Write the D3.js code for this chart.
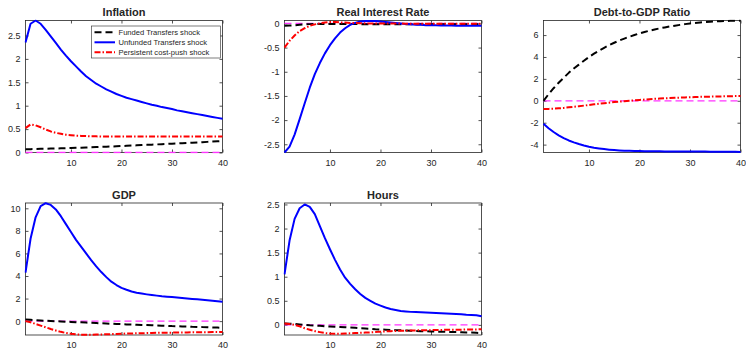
<!DOCTYPE html>
<html>
<head>
<meta charset="utf-8">
<script src="https://cdn.jsdelivr.net/npm/d3@7"></script>
<style>
  body { margin: 0; background: #fff; }
  svg { display: block; }
  text { font-family: "Liberation Sans", Arial, Helvetica, sans-serif; fill: #262626; }
</style>
</head>
<body>
<svg id="chart" width="746" height="349"></svg>
<script>
// horizon (quarters)
const periods = d3.range(1, 41);

const seriesNames = ["Funded Transfers shock", "Unfunded Transfers shock", "Persistent cost-push shock"];

// Inflation
const inflationFunded = [0.07, 0.072, 0.075, 0.078, 0.08, 0.083, 0.086, 0.089, 0.092, 0.095, 0.099, 0.103, 0.107, 0.111, 0.115, 0.12, 0.124, 0.128, 0.133, 0.138, 0.143, 0.148, 0.153, 0.158, 0.163, 0.168, 0.173, 0.178, 0.183, 0.188, 0.193, 0.198, 0.204, 0.209, 0.215, 0.221, 0.227, 0.233, 0.239, 0.245];
const inflationUnfunded = [2.35, 2.75, 2.82, 2.75, 2.62, 2.48, 2.34, 2.2, 2.07, 1.95, 1.84, 1.73, 1.63, 1.55, 1.47, 1.41, 1.35, 1.3, 1.25, 1.21, 1.17, 1.14, 1.11, 1.08, 1.05, 1.02, 1.0, 0.97, 0.95, 0.93, 0.9, 0.88, 0.86, 0.84, 0.82, 0.8, 0.78, 0.76, 0.74, 0.72];
const inflationCostPush = [0.52, 0.6, 0.58, 0.54, 0.49, 0.45, 0.42, 0.4, 0.38, 0.37, 0.36, 0.355, 0.35, 0.345, 0.345, 0.34, 0.34, 0.34, 0.34, 0.34, 0.34, 0.34, 0.34, 0.34, 0.34, 0.34, 0.34, 0.34, 0.34, 0.34, 0.34, 0.34, 0.34, 0.34, 0.34, 0.34, 0.34, 0.34, 0.34, 0.34];
const inflationTicks = [0, 0.5, 1, 1.5, 2, 2.5];
const inflationLim = [0, 2.82];

// Real interest rate
const rateFunded = [-0.05, -0.045, -0.04, -0.03, -0.02, -0.015, -0.01, -0.01, -0.01, -0.01, -0.01, -0.01, -0.012, -0.013, -0.014, -0.015, -0.015, -0.016, -0.016, -0.017, -0.017, -0.018, -0.018, -0.018, -0.019, -0.019, -0.019, -0.02, -0.02, -0.02, -0.02, -0.02, -0.02, -0.02, -0.02, -0.02, -0.02, -0.02, -0.02, -0.02];
const rateUnfunded = [-2.67, -2.55, -2.3, -1.98, -1.65, -1.33, -1.05, -0.82, -0.62, -0.45, -0.31, -0.19, -0.1, -0.03, 0.01, 0.04, 0.05, 0.05, 0.05, 0.04, 0.03, 0.02, 0.01, 0.0, -0.01, -0.02, -0.03, -0.03, -0.04, -0.04, -0.04, -0.045, -0.045, -0.045, -0.05, -0.05, -0.05, -0.05, -0.05, -0.05];
const rateCostPush = [-0.5, -0.36, -0.25, -0.16, -0.1, -0.05, -0.02, 0.0, 0.02, 0.03, 0.03, 0.02, 0.02, 0.01, 0.01, 0.005, 0.0, 0.0, 0.0, 0.0, 0.0, 0.0, 0.0, 0.0, -0.005, -0.005, -0.005, -0.005, -0.005, -0.005, -0.005, -0.005, -0.005, -0.005, -0.005, -0.005, -0.005, -0.005, -0.005, -0.005];
const rateTicks = [-2.5, -2, -1.5, -1, -0.5, 0];
const rateLim = [-2.67, 0.06];

// Debt-to-GDP ratio
const debtFunded = [0.0, 0.6, 1.15, 1.65, 2.1, 2.55, 2.95, 3.3, 3.65, 4.0, 4.3, 4.58, 4.84, 5.08, 5.3, 5.5, 5.68, 5.85, 6.0, 6.15, 6.28, 6.4, 6.51, 6.61, 6.7, 6.78, 6.86, 6.93, 7.0, 7.06, 7.11, 7.15, 7.19, 7.22, 7.25, 7.27, 7.29, 7.3, 7.31, 7.32];
const debtUnfunded = [-2.1, -2.5, -2.85, -3.15, -3.4, -3.62, -3.8, -3.95, -4.08, -4.19, -4.28, -4.35, -4.41, -4.46, -4.5, -4.53, -4.55, -4.57, -4.58, -4.59, -4.6, -4.6, -4.61, -4.61, -4.62, -4.62, -4.62, -4.63, -4.63, -4.63, -4.64, -4.64, -4.64, -4.65, -4.65, -4.65, -4.66, -4.66, -4.66, -4.67];
const debtCostPush = [-0.75, -0.74, -0.72, -0.69, -0.65, -0.6, -0.55, -0.5, -0.44, -0.38, -0.32, -0.27, -0.22, -0.17, -0.12, -0.08, -0.04, 0.0, 0.04, 0.08, 0.11, 0.15, 0.18, 0.2, 0.23, 0.25, 0.27, 0.29, 0.31, 0.33, 0.34, 0.36, 0.37, 0.38, 0.39, 0.4, 0.41, 0.42, 0.43, 0.44];
const debtTicks = [-4, -2, 0, 2, 4, 6];
const debtLim = [-4.72, 7.33];

// GDP
const gdpFunded = [0.15, 0.12, 0.09, 0.06, 0.03, 0.01, -0.01, -0.03, -0.05, -0.07, -0.09, -0.11, -0.13, -0.15, -0.17, -0.19, -0.21, -0.23, -0.25, -0.27, -0.29, -0.3, -0.32, -0.34, -0.35, -0.37, -0.39, -0.4, -0.42, -0.44, -0.45, -0.47, -0.48, -0.5, -0.51, -0.53, -0.54, -0.56, -0.57, -0.59];
const gdpUnfunded = [4.3, 7.3, 9.2, 10.2, 10.45, 10.3, 9.9, 9.3, 8.6, 7.9, 7.2, 6.6, 6.0, 5.4, 4.85, 4.35, 3.9, 3.5, 3.2, 2.95, 2.78, 2.63, 2.52, 2.44, 2.37, 2.31, 2.26, 2.21, 2.17, 2.13, 2.09, 2.05, 2.01, 1.97, 1.93, 1.89, 1.85, 1.81, 1.77, 1.72];
const gdpCostPush = [0.0, -0.1, -0.25, -0.4, -0.55, -0.7, -0.83, -0.95, -1.05, -1.12, -1.17, -1.2, -1.2, -1.2, -1.19, -1.18, -1.17, -1.15, -1.14, -1.12, -1.1, -1.09, -1.08, -1.07, -1.06, -1.05, -1.04, -1.03, -1.02, -1.02, -1.01, -1.0, -1.0, -0.99, -0.99, -0.98, -0.98, -0.97, -0.97, -0.96];
const gdpTicks = [0, 2, 4, 6, 8, 10];
const gdpLim = [-1.23, 10.47];

// Hours
const hoursFunded = [0.03, 0.025, 0.02, 0.01, 0.0, -0.01, -0.015, -0.02, -0.03, -0.035, -0.04, -0.045, -0.05, -0.055, -0.06, -0.07, -0.075, -0.08, -0.09, -0.095, -0.1, -0.105, -0.11, -0.11, -0.115, -0.12, -0.125, -0.13, -0.13, -0.135, -0.14, -0.14, -0.145, -0.15, -0.15, -0.155, -0.16, -0.16, -0.165, -0.17];
const hoursUnfunded = [1.05, 1.75, 2.2, 2.42, 2.5, 2.45, 2.3, 2.05, 1.8, 1.57, 1.35, 1.15, 0.98, 0.85, 0.74, 0.64, 0.56, 0.5, 0.44, 0.4, 0.36, 0.33, 0.31, 0.29, 0.28, 0.27, 0.265, 0.26, 0.255, 0.25, 0.245, 0.24, 0.235, 0.23, 0.225, 0.22, 0.21, 0.205, 0.2, 0.18];
const hoursCostPush = [0.03, 0.02, 0.0, -0.03, -0.07, -0.1, -0.13, -0.15, -0.17, -0.18, -0.185, -0.185, -0.18, -0.175, -0.17, -0.165, -0.16, -0.155, -0.15, -0.14, -0.135, -0.13, -0.125, -0.12, -0.12, -0.115, -0.115, -0.11, -0.11, -0.11, -0.105, -0.105, -0.1, -0.1, -0.1, -0.1, -0.095, -0.095, -0.095, -0.09];
const hoursTicks = [0, 0.5, 1, 1.5, 2, 2.5];
const hoursLim = [-0.21, 2.53];

const xTicks = [10, 20, 30, 40];

// layout
const colLeft = [25.5, 284.5, 543.5];
const rowTop = [20.5, 203];
const W = 197, H = 132;
const axisColor = "#262626";

const styles = [
  {color: "#000000", width: 2, dash: "7,4"},
  {color: "#0000ff", width: 2, dash: null},
  {color: "#ff0000", width: 2, dash: "6,2,1.5,2"}
];
const zeroStyle = {color: "#ff33ff", width: 1.3, dash: "7,4"};

const panels = [
  {title: "Inflation", col: 0, row: 0, lim: inflationLim, ticks: inflationTicks, data: [inflationFunded, inflationUnfunded, inflationCostPush], legend: true},
  {title: "Real Interest Rate", col: 1, row: 0, lim: rateLim, ticks: rateTicks, data: [rateFunded, rateUnfunded, rateCostPush]},
  {title: "Debt-to-GDP Ratio", col: 2, row: 0, lim: debtLim, ticks: debtTicks, data: [debtFunded, debtUnfunded, debtCostPush]},
  {title: "GDP", col: 0, row: 1, lim: gdpLim, ticks: gdpTicks, data: [gdpFunded, gdpUnfunded, gdpCostPush]},
  {title: "Hours", col: 1, row: 1, lim: hoursLim, ticks: hoursTicks, data: [hoursFunded, hoursUnfunded, hoursCostPush]}
];

const svg = d3.select("#chart");
const fmt = (d) => String(d);

panels.forEach((p, i) => {
  const left = colLeft[p.col], top = rowTop[p.row];
  const x = d3.scaleLinear().domain([1, 40]).range([left, left + W]);
  const y = d3.scaleLinear().domain(p.lim).range([top + H, top]);
  const g = svg.append("g");

  // box
  g.append("rect")
    .attr("x", left).attr("y", top)
    .attr("width", W).attr("height", H)
    .attr("fill", "none")
    .attr("stroke", axisColor)
    .attr("stroke-width", 0.8);

  // axes with inward ticks, then mirrored ticks on top / right
  const styleAxis = (sel) => {
    sel.select(".domain").remove();
    sel.selectAll("line").attr("stroke", axisColor).attr("stroke-width", 0.8);
    sel.selectAll("text").attr("fill", axisColor).style("font-size", "9px")
      .style("font-family", "'Liberation Sans', Arial, sans-serif");
  };
  g.append("g").attr("transform", `translate(0,${top + H})`)
    .call(d3.axisBottom(x).tickValues(xTicks).tickSize(-3).tickPadding(7).tickFormat(fmt))
    .call(styleAxis);
  g.append("g").attr("transform", `translate(0,${top})`)
    .call(d3.axisTop(x).tickValues(xTicks).tickSize(-3).tickFormat(""))
    .call(styleAxis);
  g.append("g").attr("transform", `translate(${left},0)`)
    .call(d3.axisLeft(y).tickValues(p.ticks).tickSize(-3).tickPadding(5).tickFormat(fmt))
    .call(styleAxis);
  g.append("g").attr("transform", `translate(${left + W},0)`)
    .call(d3.axisRight(y).tickValues(p.ticks).tickSize(-3).tickFormat(""))
    .call(styleAxis);

  // title
  g.append("text")
    .attr("x", left + W / 2).attr("y", top - 4.5)
    .attr("text-anchor", "middle")
    .style("font-size", "11px").style("font-weight", "bold")
    .attr("fill", "#000")
    .text(p.title);

  // clip
  const clipId = "clip" + i;
  svg.append("clipPath").attr("id", clipId)
    .append("rect").attr("x", left - 1).attr("y", top - 1).attr("width", W + 2).attr("height", H + 2);

  const line = d3.line().x((d, k) => x(periods[k])).y((d) => y(d));
  const lines = g.append("g").attr("clip-path", `url(#${clipId})`);

  lines.append("path")
    .datum(periods.map(() => 0))
    .attr("d", line)
    .attr("fill", "none")
    .attr("stroke", zeroStyle.color)
    .attr("stroke-width", zeroStyle.width)
    .attr("stroke-dasharray", zeroStyle.dash);

  p.data.forEach((vals, s) => {
    lines.append("path")
      .datum(vals)
      .attr("d", line)
      .attr("fill", "none")
      .attr("stroke", styles[s].color)
      .attr("stroke-width", styles[s].width)
      .attr("stroke-dasharray", styles[s].dash)
      .attr("stroke-linejoin", "round");
  });

  if (p.legend) {
    const lx = 91.5, ly = 26, lw = 129, lh = 32;
    const leg = g.append("g");
    leg.append("rect")
      .attr("x", lx).attr("y", ly).attr("width", lw).attr("height", lh)
      .attr("fill", "#fff").attr("stroke", axisColor).attr("stroke-width", 0.6);
    seriesNames.forEach((name, s) => {
      const yy = ly + 6.3 + s * 10;
      leg.append("line")
        .attr("x1", lx + 3).attr("x2", lx + 23.5)
        .attr("y1", yy).attr("y2", yy)
        .attr("stroke", styles[s].color)
        .attr("stroke-width", styles[s].width)
        .attr("stroke-dasharray", styles[s].dash);
      leg.append("text")
        .attr("x", lx + 27).attr("y", yy).attr("dy", "0.35em")
        .style("font-size", "7.6px")
        .attr("fill", "#000")
        .text(name);
    });
  }
});
</script>
</body>
</html>
